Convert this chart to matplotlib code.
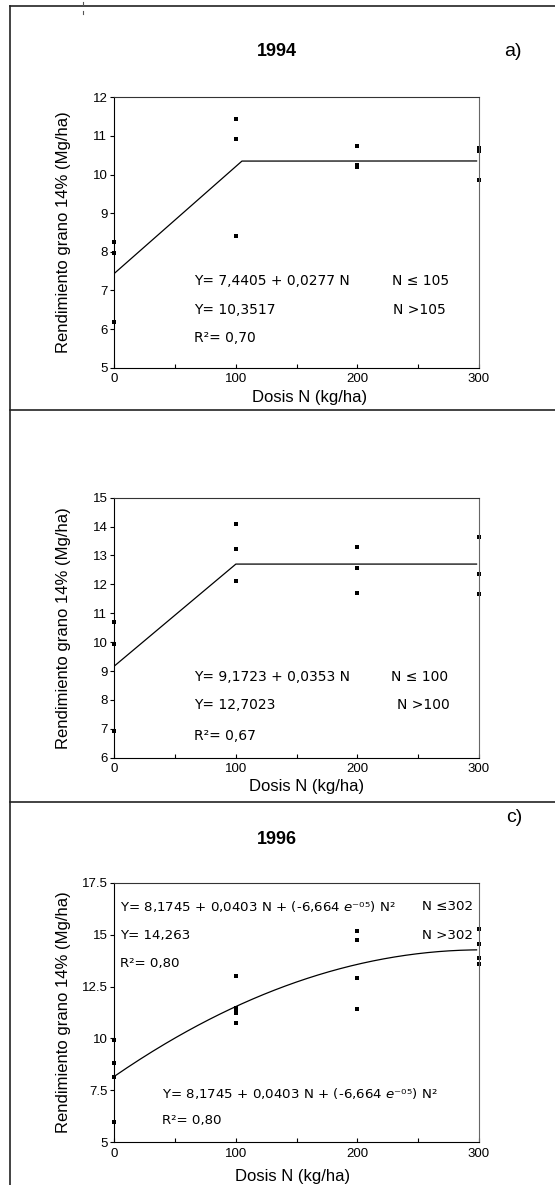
import numpy as np
import matplotlib
matplotlib.use("Agg")
import matplotlib.pyplot as plt
from matplotlib.lines import Line2D

plt.rcParams['font.family'] = ['Liberation Sans', 'DejaVu Sans']
plt.rcParams['mathtext.fontset'] = 'dejavusans'

# datos
dosis = [0, 100, 200, 300]

# 1994
y94_n0 = [8.26, 7.97, 6.19]
y94_n100 = [11.44, 10.92, 8.40]
y94_n200 = [10.73, 10.25, 10.19]
y94_n300 = [10.70, 10.60, 9.87]

# 1995 (panel b)
y95_n0 = [10.71, 9.92, 6.94]
y95_n100 = [14.08, 13.21, 12.12]
y95_n200 = [13.28, 12.55, 11.69]
y95_n300 = [13.63, 12.36, 11.67]

# 1996
y96_n0 = [9.92, 8.80, 8.15, 5.98]
y96_n100 = [13.01, 11.46, 11.30, 11.24, 10.74]
y96_n200 = [15.19, 14.74, 12.92, 11.41]
y96_n300 = [15.27, 14.57, 13.86, 13.60]

# modelos ajustados
a94, b94, quiebre94, meseta94 = 7.4405, 0.0277, 105, 10.3517
a95, b95, quiebre95, meseta95 = 9.1723, 0.0353, 100, 12.7023
a96, b96, c96 = 8.1745, 0.0403, -6.664e-05

W, H = 555, 1185
fig = plt.figure(figsize=(W / 100, H / 100), dpi=100)


def px_axes(x0, y0, x1, y1):
    return fig.add_axes([x0 / W, 1 - y1 / H, (x1 - x0) / W, (y1 - y0) / H])


def style_axes(ax, ylim, yticks, yticklabels):
    ax.set_xlim(0, 300)
    ax.set_ylim(*ylim)
    ax.set_xticks([0, 100, 200, 300])
    ax.set_xticks([50, 150, 250], minor=True)
    ax.set_yticks(yticks)
    ax.set_yticklabels(yticklabels)
    ax.tick_params(axis='x', which='both', direction='in', length=3, width=0.8, labelsize=9.5, pad=4)
    ax.tick_params(axis='y', direction='out', length=3, width=0.8, labelsize=9.5, pad=2)
    for s in ax.spines.values():
        s.set_linewidth(0.8)
    ax.spines['right'].set_color('#666666')
    ax.spines['top'].set_color('#333333')
    ax.set_ylabel('Rendimiento grano 14% (Mg/ha)', fontsize=12)
    ax.yaxis.set_label_coords(-0.118, 0.5)


def puntos(ax, grupos):
    for x, ys in zip(dosis, grupos):
        ax.plot([x] * len(ys), ys, 's', color='black', ms=2.3, mew=0, clip_on=False)


ann = dict(fontsize=10, family=['DejaVu Sans'], va='center')
ann_c = dict(fontsize=9.6, family=['DejaVu Sans'], va='center')

# ---------- panel a: 1994 ----------
ax1 = px_axes(114.3, 97.3, 479, 367.7)
style_axes(ax1, (5, 12), range(5, 13), [str(v) for v in range(5, 13)])
puntos(ax1, [y94_n0, y94_n100, y94_n200, y94_n300])
xs = np.array([0, quiebre94, 298])
ax1.plot(xs, np.where(xs <= quiebre94, a94 + b94 * xs, meseta94), color='black', lw=0.9)
ax1.text(65.6, 7.25, 'Y= 7,4405 + 0,0277 N', **ann)
ax1.text(228.3, 7.25, 'N ≤ 105', **ann)
ax1.text(65.6, 6.50, 'Y= 10,3517', **ann)
ax1.text(229.2, 6.50, 'N >105', **ann)
ax1.text(65.6, 5.77, 'R²= 0,70', **ann)
fig.text(277 / W, 1 - 52 / H, '1994', fontsize=13, fontweight='bold', ha='center', va='center')
fig.text(522 / W, 1 - 52 / H, 'a)', fontsize=14, ha='right', va='center')
fig.text(310 / W, 1 - 397 / H, 'Dosis N (kg/ha)', fontsize=12, ha='center', va='center')

# ---------- panel b ----------
ax2 = px_axes(114.3, 497.7, 479, 757.7)
style_axes(ax2, (6, 15), range(6, 16), [str(v) for v in range(6, 16)])
puntos(ax2, [y95_n0, y95_n100, y95_n200, y95_n300])
xs = np.array([0, quiebre95, 298])
ax2.plot(xs, np.where(xs <= quiebre95, a95 + b95 * xs, meseta95), color='black', lw=0.9)
ax2.text(65.6, 8.78, 'Y= 9,1723 + 0,0353 N', **ann)
ax2.text(228.0, 8.78, 'N ≤ 100', **ann)
ax2.text(65.6, 7.82, 'Y= 12,7023', **ann)
ax2.text(232.5, 7.82, 'N >100', **ann)
ax2.text(65.6, 6.76, 'R²= 0,67', **ann)
fig.text(307 / W, 1 - 787 / H, 'Dosis N (kg/ha)', fontsize=12, ha='center', va='center')

# ---------- panel c: 1996 ----------
ax3 = px_axes(114.3, 882.7, 479, 1142.3)
style_axes(ax3, (5, 17.5), [5, 7.5, 10, 12.5, 15, 17.5], ['5', '7.5', '10', '12.5', '15', '17.5'])
puntos(ax3, [y96_n0, y96_n100, y96_n200, y96_n300])
xs = np.linspace(0, 298, 200)
ax3.plot(xs, a96 + b96 * xs + c96 * xs ** 2, color='black', lw=0.9)
ec = 'Y= 8,1745 + 0,0403 N + (-6,664 $e$⁻⁰⁵) N²'
ax3.text(4.7, 16.34, ec, **ann_c)
ax3.text(295, 16.34, 'N ≤302', ha='right', **ann_c)
ax3.text(4.7, 14.95, 'Y= 14,263', **ann_c)
ax3.text(295, 14.95, 'N >302', ha='right', **ann_c)
ax3.text(4.7, 13.63, 'R²= 0,80', **ann_c)
ax3.text(39.2, 7.37, ec, **ann_c)
ax3.text(39.2, 6.04, 'R²= 0,80', **ann_c)
fig.text(277 / W, 1 - 840 / H, '1996', fontsize=13, fontweight='bold', ha='center', va='center')
fig.text(522 / W, 1 - 818 / H, 'c)', fontsize=14, ha='right', va='center')
fig.text(293 / W, 1 - 1177 / H, 'Dosis N (kg/ha)', fontsize=12, ha='center', va='center')

# marco de la pagina
for y in [6, 410, 802]:
    fig.add_artist(Line2D([9.5 / W, 1], [1 - y / H, 1 - y / H], color='#222222', lw=1.2))
fig.add_artist(Line2D([9.5 / W, 9.5 / W], [1 - 6 / H, 0], color='#222222', lw=1.2))
fig.add_artist(Line2D([83 / W, 83 / W], [1 - 1.5 / H, 1 - 4.5 / H], color='#555555', lw=0.8))
fig.add_artist(Line2D([83 / W, 83 / W], [1 - 10.5 / H, 1 - 13.5 / H], color='#555555', lw=0.8))

fig.savefig('out.png', dpi=100)
